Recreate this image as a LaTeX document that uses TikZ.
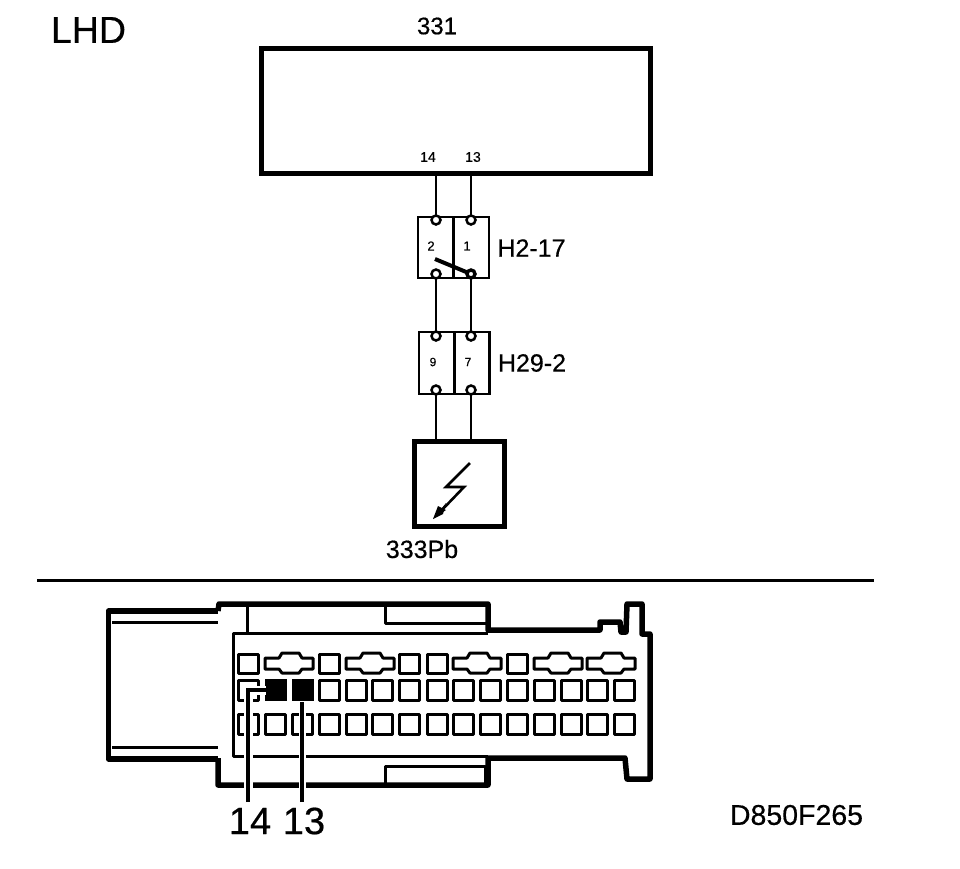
\documentclass[tikz,border=0pt]{standalone}
\usepackage{fontspec}
\setmainfont{Liberation Sans}[AutoFakeBold=0.5]
\newcommand{\fs}[1]{\fontsize{#1}{#1}\selectfont}
\tikzset{
  thickbox/.style={draw=black,line width=5pt,inner sep=0pt,outer sep=0pt},
  conn/.style={draw=black,line width=2.5pt,inner sep=0pt,outer sep=0pt,minimum height=61pt,minimum width=35.5pt},
  pin/.style={circle,draw=black,fill=white,line width=2.5pt,minimum size=9pt,inner sep=0pt,outer sep=0pt},
  wire/.style={line width=2.5pt},
  lab/.style={inner sep=0pt,outer sep=0pt,text=black},
  body/.style={line width=5.5pt,line join=round},
  fine/.style={line width=3pt,line join=round},
  cell/.style={line width=3pt,line join=round},
  halo/.style={white,line width=9pt},
  leader/.style={line width=3.5pt}
}
\begin{document}
\begin{tikzpicture}[x=1pt,y=-1pt]
\useasboundingbox (0,0) rectangle (960,868);
\fill[white] (0,0) rectangle (960,868);
% schematic
\node[lab,font=\fs{37.5}] (lhd) at (88.5,30) {\bfseries LHD};
\node[lab,font=\fs{24}] (t331) at (437,26) {\bfseries 331};
\node[thickbox,minimum width=389pt,minimum height=125pt] (ecu) at (455.5,110.5) {};
\node[lab,font=\fs{14}] (t14) at (428,157) {\bfseries 14};
\node[lab,font=\fs{14}] (t13) at (473,157) {\bfseries 13};
\node[conn] (ha) at (435.7,247.5) {};
\node[conn] (hb) at (471.2,247.5) {};
\node[conn,minimum height=62pt] (ka) at (436.5,363) {};
\node[conn,minimum height=62pt] (kb) at (471.7,363) {};
\node[pin] (ha1) at (436,220) {};
\node[pin] (hb1) at (471,220) {};
\node[pin] (ha2) at (436,274) {};
\node[pin] (hb2) at (471,274) {};
\node[pin] (ka1) at (436,336) {};
\node[pin] (kb1) at (471,336) {};
\node[pin] (ka2) at (436,390) {};
\node[pin] (kb2) at (471,390) {};
\node[lab,font=\fs{13}] (n2) at (431,246) {\bfseries 2};
\node[lab,font=\fs{13}] (n1) at (467,246) {\bfseries 1};
\node[lab,font=\fs{12}] (n9) at (433,362) {\bfseries 9};
\node[lab,font=\fs{12}] (n7) at (468,362) {\bfseries 7};
\node[lab,font=\fs{25}] (h2) at (531.5,248) {\bfseries H2-17};
\node[lab,font=\fs{25}] (h29) at (532,363) {\bfseries H29-2};
\node[thickbox,minimum width=90pt,minimum height=85pt] (pb) at (459.5,484) {};
\node[lab,font=\fs{25}] (t333) at (422,549) {\bfseries 333Pb};
\draw[wire] (ha1.north) -- (ha1.north |- ecu.south);
\draw[wire] (hb1.north) -- (hb1.north |- ecu.south);
\draw[wire] (ha2.south) -- (ka1.north);
\draw[wire] (hb2.south) -- (kb1.north);
\draw[wire] (ka2.south) -- (ka2.south |- pb.north);
\draw[wire] (kb2.south) -- (kb2.south |- pb.north);
\draw[line width=4pt] (435,259) -- (hb2.center);
\node[pin,minimum size=7pt,fill=white] at (hb2) {};
% lightning
\draw[line width=2.6pt,line join=miter] (470,463) -- (446,487) -- (464,487) -- (440,512);
\fill (433,519) -- (446,503) -- (443,514) -- cycle;
\fill (433,519) -- (438,506) -- (446,510) -- cycle;
% divider
\coordinate (dl) at (37,580);
\coordinate (dr) at (874,580);
\draw[line width=3pt] (dl) -- (dr);
% connector housing
\draw[body] (218,611) -- (108.5,611) -- (108.5,759) -- (218,759);
\draw[fine] (112,622) -- (218,622);
\draw[fine] (112,747) -- (218,747);
\draw[body] (218,758) -- (218,785) -- (488,785) -- (488,758) -- (625,758) -- (627,779) -- (650,779) -- (650,634) -- (642,634) -- (642,604) -- (627,604) -- (626,632) -- (621,632) -- (620,622) -- (600,622) -- (600,630) -- (488,630) -- (488,604) -- (219,604) -- (218,611);
\draw[fine] (247,604) -- (247,633);
\draw[fine] (488,633) -- (233,633) -- (233,756) -- (488,756);
\draw[fine] (488,623) -- (385,623) -- (385,604);
\draw[fine] (485,785) -- (485,766) -- (385,766) -- (385,785);
% row 1
\foreach \x in {238,319,399,427,507}
  \draw[cell] (\x,654) rectangle ++(20,19);
\foreach \x in {265,346,453,534,587}
  \draw[cell] (\x,658) -- ++(14,0) -- ++(3,-5) -- ++(17,0) -- ++(3,5) -- ++(11,0) -- ++(0,11) -- ++(-11,0) -- ++(-3,4) -- ++(-17,0) -- ++(-3,-4) -- ++(-14,0) -- cycle;
% rows 2, 3
\foreach \x in {238,319,346,372,399,427,453,480,507,534,561,587,614} {
  \draw[cell] (\x,680) rectangle ++(20,20);
}
\foreach \x in {238,265,292,319,346,372,399,427,453,480,507,534,561,587,614} {
  \draw[cell] (\x,714) rectangle ++(20,20);
}
\fill (265,679) rectangle (287,701);
\fill (292,679) rectangle (314,701);
% leaders
\node[lab,font=\fs{38}] (b14) at (250,821) {\bfseries 14};
\node[lab,font=\fs{38}] (b13) at (304,821) {\bfseries 13};
\coordinate (c14) at (266,690);
\coordinate (c13) at (302,702);
\draw[halo] (248,802) -- (248,690) -- (c14);
\draw[white,line width=7pt] (302,802) -- (c13);
\draw[leader] (248,802) -- (248,690) -- (c14);
\draw[leader] (302,802) -- (c13);
\node[lab,font=\fs{28.5}] (code) at (796.5,815) {\bfseries D850F265};
\end{tikzpicture}
\end{document}
